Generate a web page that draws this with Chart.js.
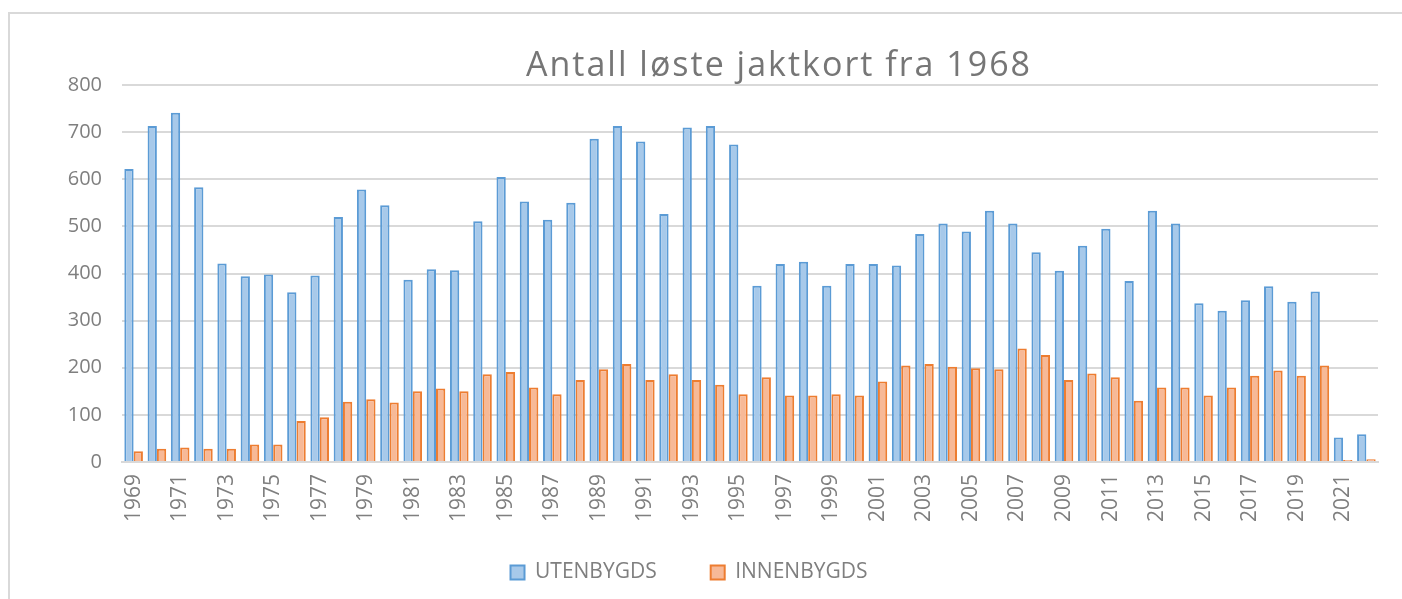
<!DOCTYPE html>
<html lang="no">
<head>
<meta charset="UTF-8">
<title>Antall løste jaktkort fra 1968</title>
<style>
    html, body { margin: 0; padding: 0; background: #fff; overflow: hidden; }
    .frame { position: absolute; left: 8px; top: 12px; width: 1500px; height: 700px; border-left: 2px solid #d9d9d9; border-top: 2px solid #d9d9d9; }
    .wrap { position: absolute; left: 0; top: 0; width: 1402px; height: 599px; }
</style>
</head>
<body>
<div class="frame"></div>
<div class="wrap"><canvas id="jaktChart"></canvas></div>
<script src="https://cdn.jsdelivr.net/npm/chart.js"></script>
<script>
const years = [];
for (let y = 1969; y <= 2022; y++) years.push(String(y));

const utenbygds = [622, 713, 741, 583, 421, 394, 398, 360, 396, 520, 578, 545, 387, 409, 407, 511, 605, 553, 514, 550, 686, 713, 680, 526, 710, 713, 674, 374, 420, 425, 374, 420, 420, 417, 484, 506, 489, 533, 506, 445, 406, 459, 495, 384, 533, 506, 337, 321, 343, 373, 340, 362, 52, 59];
const innenbygds = [23, 28, 31, 28, 28, 37, 37, 87, 95, 128, 133, 126, 150, 156, 150, 186, 191, 158, 144, 174, 197, 208, 174, 186, 174, 164, 144, 180, 141, 141, 144, 141, 171, 205, 208, 202, 199, 197, 241, 227, 174, 188, 180, 130, 158, 158, 141, 158, 183, 194, 183, 205, 4, 6];

const seriesNames = ['UTENBYGDS', 'INNENBYGDS'];
const chartTitle = 'Antall løste jaktkort fra 1968';

// tittelen står litt til høyre for midten, som i Excel-bildet
const titlePlugin = {
    id: 'excelTitle',
    afterDraw(chart) {
        const ctx = chart.ctx;
        ctx.save();
        ctx.font = '34px "Open Sans", sans-serif';
        ctx.letterSpacing = '2px';
        ctx.fillStyle = '#767676';
        ctx.textAlign = 'center';
        ctx.textBaseline = 'alphabetic';
        ctx.fillText(chartTitle, 779, 76);
        ctx.restore();
    }
};

new Chart(document.getElementById('jaktChart'), {
    type: 'bar',
    data: {
        labels: years,
        datasets: [{
            label: seriesNames[0],
            data: utenbygds,
            backgroundColor: '#a7c9ea',
            borderColor: '#5b9bd5',
            borderWidth: 2,
            borderSkipped: 'bottom'
        }, {
            label: seriesNames[1],
            data: innenbygds,
            backgroundColor: '#f7b997',
            borderColor: '#ed7d31',
            borderWidth: 2,
            borderSkipped: 'bottom'
        }]
    },
    options: {
        responsive: true,
        maintainAspectRatio: false,
        animation: false,
        layout: { padding: { left: 0, right: 24, top: 85, bottom: 6 } },
        datasets: { bar: { categoryPercentage: 0.8, barPercentage: 1.0 } },
        scales: {
            x: {
                grid: { display: false },
                border: { display: true, color: '#d9d9d9', width: 2 },
                ticks: {
                    autoSkip: false,
                    maxRotation: 90,
                    minRotation: 90,
                    color: '#7f7f7f',
                    font: { family: '"Open Sans", sans-serif', size: 21 },
                    padding: 4,
                    callback: function(value, index) {
                        return index % 2 === 0 ? this.getLabelForValue(value) : null;
                    }
                },
                afterFit(scale) { scale.height = 88; }
            },
            y: {
                min: 0,
                max: 800,
                ticks: {
                    stepSize: 100,
                    color: '#7f7f7f',
                    font: { family: '"Open Sans", sans-serif', size: 20 },
                    padding: 20
                },
                grid: { color: '#d9d9d9', lineWidth: 2, drawTicks: false },
                border: { display: false },
                afterFit(scale) { scale.width = 122; }
            }
        },
        plugins: {
            title: { display: false },
            tooltip: { enabled: false },
            legend: {
                position: 'bottom',
                labels: {
                    boxWidth: 14,
                    boxHeight: 14,
                    color: '#7f7f7f',
                    font: { family: '"Open Sans", sans-serif', size: 21 },
                    padding: 12,
                    generateLabels(chart) {
                        const items = Chart.defaults.plugins.legend.labels.generateLabels(chart);
                        // litt ekstra luft mellom de to seriene
                        items[0].text = items[0].text + '\u2003\u2003';
                        return items;
                    }
                }
            }
        }
    },
    plugins: [titlePlugin]
});
</script>
</body>
</html>
